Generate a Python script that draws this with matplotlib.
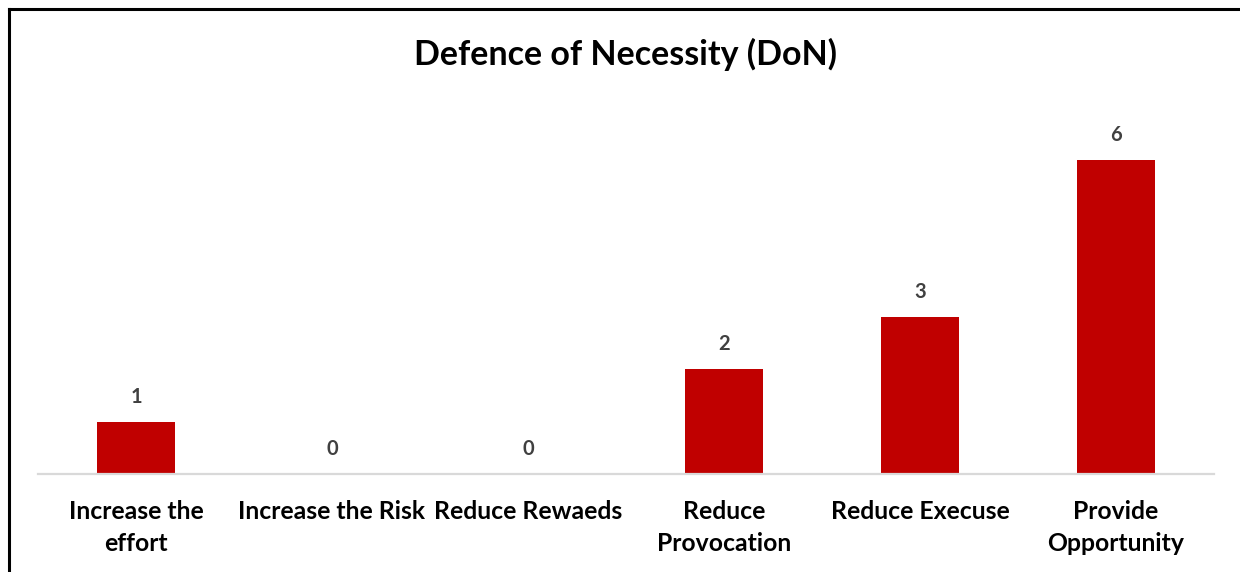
import matplotlib.pyplot as plt
from matplotlib.lines import Line2D

# ---------- Data ----------
categories = ["Increase the\neffort", "Increase the Risk", "Reduce Rewaeds",
              "Reduce\nProvocation", "Reduce Execuse", "Provide\nOpportunity"]
counts = [1, 0, 0, 2, 3, 6]

BAR_RED = "#c00000"
LABEL_GREY = "#404040"

plt.rcParams["font.family"] = ["Lato", "DejaVu Sans"]

W, H = 1240, 572
fig = plt.figure(figsize=(W / 100, H / 100), dpi=100)

# plot area in pixel terms: x 38..1214, baseline at y=474, 7 units of height
x0, x1 = 38, 1214
y_base = 474
unit = 52.3
top = y_base - 7 * unit
ax = fig.add_axes([x0 / W, 1 - y_base / H, (x1 - x0) / W, (y_base - top) / H])

xs = range(len(categories))
bars = ax.bar(xs, counts, width=0.40, color=BAR_RED, zorder=2)
ax.set_xlim(-0.5, len(categories) - 0.5)
ax.set_ylim(0, 7)

for b, v in zip(bars, counts):
    ax.annotate(str(v), (b.get_x() + b.get_width() / 2, v),
                xytext=(0, 25), textcoords="offset pixels",
                ha="center", va="center", fontsize=14.5, fontweight="bold",
                color=LABEL_GREY)

ax.set_xticks(list(xs))
ax.set_xticklabels(categories, fontsize=17.8, fontweight="bold", color="black",
                   linespacing=1.45, va="top")
ax.tick_params(axis="x", length=0, pad=19)
ax.set_yticks([])
for s in ["top", "right", "left"]:
    ax.spines[s].set_visible(False)
ax.spines["bottom"].set_color("#d9d9d9")
ax.spines["bottom"].set_linewidth(1.6)

fig.text(625 / W, 1 - 54 / H, "Defence of Necessity (DoN)", ha="center",
         va="center", fontsize=24.5, fontweight="bold")

# frame edges along the top and left
fig.add_artist(Line2D([9 / W, 1], [1 - 9 / H, 1 - 9 / H], color="black", lw=2.2))
fig.add_artist(Line2D([9 / W, 9 / W], [0, 1 - 9 / H], color="black", lw=2.2))

fig.savefig("out.png", dpi=100)
